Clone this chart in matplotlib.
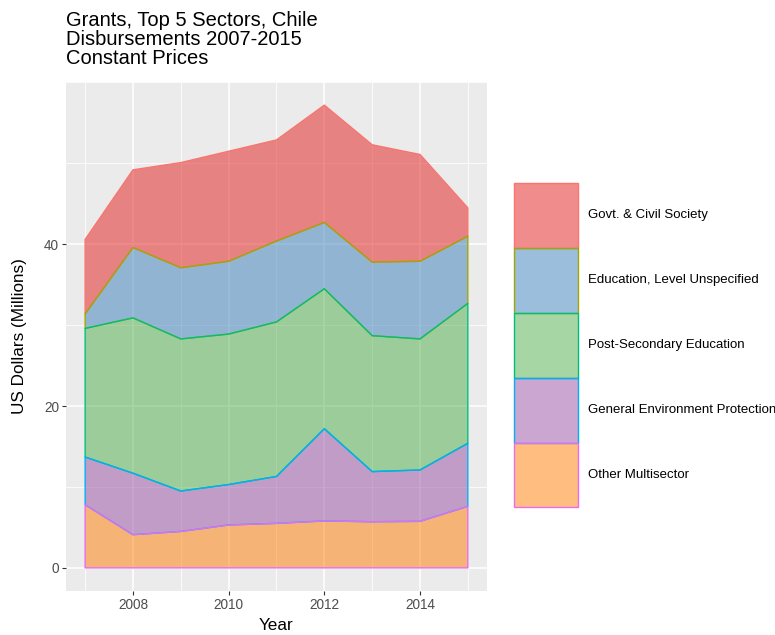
import numpy as np
import matplotlib
matplotlib.use("Agg")
import matplotlib.pyplot as plt
from matplotlib.patches import Patch
from matplotlib.ticker import MultipleLocator

plt.rcParams['font.family'] = ['Liberation Sans', 'DejaVu Sans']

years = [2007, 2008, 2009, 2010, 2011, 2012, 2013, 2014, 2015]

# sectors, top of stack first (legend order)
sectors = ["Govt. & Civil Society", "Education, Level Unspecified",
           "Post-Secondary Education", "General Environment Protection",
           "Other Multisector"]
govt = [9.2, 9.6, 13.0, 13.6, 12.5, 14.5, 14.5, 13.2, 3.5]
edu_unspec = [1.8, 8.7, 8.8, 9.0, 10.0, 8.2, 9.1, 9.6, 8.3]
post_sec = [15.9, 19.2, 18.8, 18.6, 19.1, 17.3, 16.8, 16.2, 17.3]
env_prot = [5.9, 7.6, 5.0, 5.0, 5.8, 11.4, 6.2, 6.35, 7.8]
other_multi = [7.8, 4.1, 4.5, 5.3, 5.5, 5.8, 5.7, 5.75, 7.6]

fills = ["#E41A1C", "#377EB8", "#4DAF4A", "#984EA3", "#FF7F00"]
lines = ["#F8766D", "#A3A500", "#00BF7D", "#00B0F6", "#E76BF3"]

values = [govt, edu_unspec, post_sec, env_prot, other_multi]

# cumulative stack from the bottom
stack = np.cumsum(np.array(values[::-1]), axis=0)[::-1]
lowers = list(stack[1:]) + [np.zeros(len(years))]

fig = plt.figure(figsize=(7.75, 6.35), dpi=100)
ax = fig.add_axes([66 / 775, 44 / 635, 421 / 775, 509 / 635])
ax.set_facecolor("#EBEBEB")

for i in range(len(sectors)):
    ax.fill_between(years, lowers[i], stack[i], facecolor=fills[i], alpha=0.5,
                    edgecolor="none", zorder=2)
for i in range(len(sectors)):
    ax.fill_between(years, lowers[i], stack[i], facecolor="none",
                    edgecolor=lines[i], linewidth=1.0, zorder=3)

ax.set_xlim(2006.6, 2015.4)
ax.set_ylim(-2.86, 60.06)
ax.set_xticks([2008, 2010, 2012, 2014])
ax.set_yticks([0, 20, 40])
ax.xaxis.set_minor_locator(MultipleLocator(1))
ax.yaxis.set_minor_locator(MultipleLocator(10))
ax.grid(which="major", color="white", linewidth=1.1, zorder=0)
ax.grid(which="minor", color="white", linewidth=0.55, zorder=0)
ax.set_axisbelow(True)
for s in ax.spines.values():
    s.set_visible(False)
ax.tick_params(which="major", length=3, color="#333333", labelsize=9.8,
               labelcolor="#4D4D4D", pad=2)
ax.tick_params(which="minor", length=0)

ax.set_xlabel("Year", fontsize=12.3, va="center")
ax.set_ylabel("US Dollars (Millions)", fontsize=12.3, va="center")
ax.xaxis.set_label_coords(0.5, -0.068)
ax.yaxis.set_label_coords(-0.11, 0.5)

fig.text(66 / 775, 1 - 11 / 635,
         "Grants, Top 5 Sectors, Chile\nDisbursements 2007-2015\nConstant Prices",
         fontsize=14.5, va="top", ha="left", linespacing=1.0)

handles = [Patch(facecolor=matplotlib.colors.to_rgba(fills[i], 0.5),
                 edgecolor=lines[i], linewidth=1.0) for i in range(len(sectors))]
leg = fig.legend(handles, sectors, loc="upper left",
                 bbox_to_anchor=(514 / 775, 1 - 183 / 635),
                 frameon=False, fontsize=9.5, handlelength=4.85, handleheight=7.19,
                 labelspacing=0.0, handletextpad=0.75, borderaxespad=0, borderpad=0)

fig.savefig("out.png", dpi=100)
